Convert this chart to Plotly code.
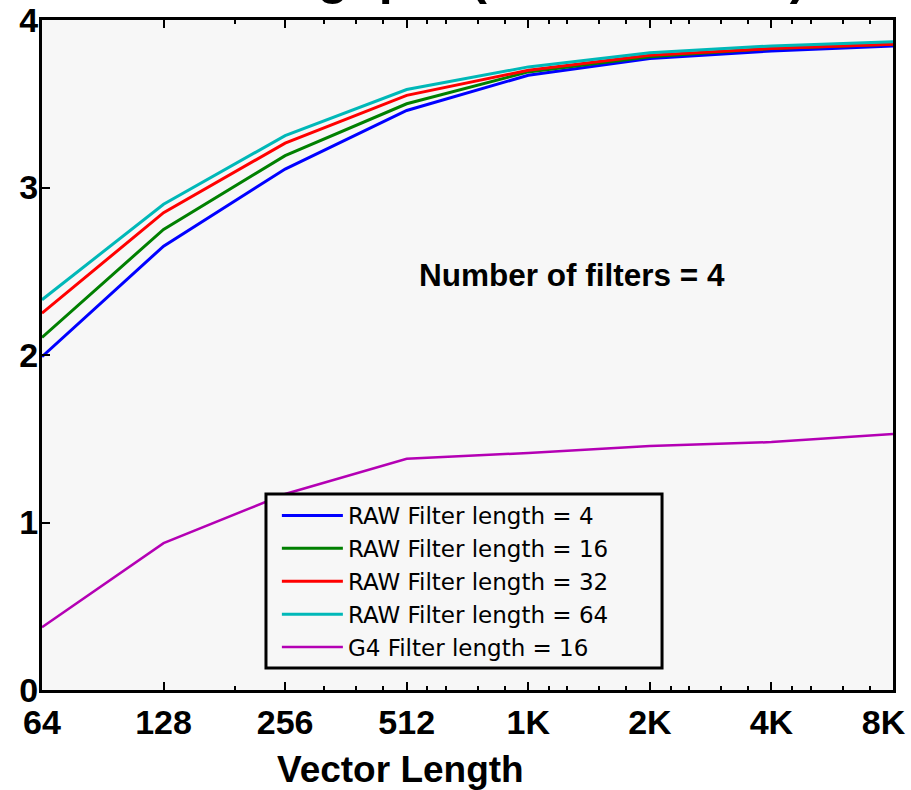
import math
import plotly.graph_objects as go

# ---- data ----
vector_lengths = [64, 128, 256, 512, 1024, 2048, 4096, 8192]
tick_labels = ["64", "128", "256", "512", "1K", "2K", "4K", "8K\u00a0\u00a0"]
minor_ticks = [192, 320, 384, 448, 576, 640, 768, 896,
               1152, 1280, 1536, 1792, 2304, 2560, 3072, 3584,
               4608, 5120, 6144, 7168]

raw_len4 = [1.99, 2.65, 3.11, 3.46, 3.67, 3.77, 3.815, 3.845]
raw_len16 = [2.105, 2.75, 3.19, 3.50, 3.69, 3.78, 3.83, 3.855]
raw_len32 = [2.25, 2.85, 3.265, 3.55, 3.70, 3.79, 3.83, 3.855]
raw_len64 = [2.33, 2.90, 3.31, 3.585, 3.72, 3.805, 3.845, 3.87]
g4_len16 = [0.375, 0.877, 1.17, 1.38, 1.415, 1.457, 1.48, 1.528]

series = [
    ("RAW Filter length = 4", raw_len4, "#0000ff", 3),
    ("RAW Filter length = 16", raw_len16, "#008000", 3),
    ("RAW Filter length = 32", raw_len32, "#ff0000", 3),
    ("RAW Filter length = 64", raw_len64, "#00b8b8", 3),
    ("G4 Filter length = 16", g4_len16, "#b400b4", 2.5),
]

BOLD = "Liberation Sans, Arial, sans-serif"

fig = go.Figure()
for name, vals, color, w in series:
    fig.add_trace(go.Scatter(x=vector_lengths, y=vals, mode="lines", name=name,
                             line=dict(color=color, width=w)))

fig.update_layout(
    width=911, height=790,
    margin=dict(l=42, r=18, t=20, b=100, pad=0, autoexpand=False),
    paper_bgcolor="white",
    plot_bgcolor="#f7f7f7",
    showlegend=True,
    legend=dict(x=0.276, y=0.2925, xanchor="left", yanchor="top",
                bgcolor="rgba(0,0,0,0)", borderwidth=0, itemwidth=61,
                font=dict(family="DejaVu Sans, sans-serif", size=23, color="black")),
    shapes=[
        dict(type="rect", xref="paper", yref="paper",
             x0=0.2632, x1=0.7286, y0=0.0328, y1=0.2925,
             line=dict(color="black", width=3), fillcolor="#f7f7f7", layer="above"),
    ],
    annotations=[
        dict(text="Number of filters = 4", xref="paper", yref="paper",
             x=0.623, y=0.619, xanchor="center", yanchor="middle", showarrow=False,
             font=dict(family=BOLD, size=31.5, color="black", weight="bold")),
        dict(text="Throughput (GFLOPS/sec)", xref="paper", yref="paper",
             x=0.528, y=1.0, xanchor="center", yanchor="bottom", yshift=13,
             showarrow=False,
             font=dict(family=BOLD, size=50, color="black", weight="bold")),
        dict(text="Vector Length", xref="paper", yref="paper",
             x=0.421, y=-0.119, xanchor="center", yanchor="middle", showarrow=False,
             font=dict(family=BOLD, size=37, color="black", weight="bold")),
    ],
)

fig.update_xaxes(
    type="log", range=[math.log10(64), math.log10(8192)],
    tickmode="array", tickvals=vector_lengths, ticktext=tick_labels,
    ticks="inside", ticklen=8, tickwidth=2, tickcolor="black",
    showline=True, linewidth=3, linecolor="black", mirror="ticks",
    showgrid=False, zeroline=False, automargin=False,
    ticklabeloverflow="allow",
    tickfont=dict(family=BOLD, size=34, color="black", weight="bold"),
    minor=dict(tickmode="array", tickvals=minor_ticks, ticks="inside", ticklen=4,
               tickwidth=2, tickcolor="black", showgrid=False),
)
fig.update_yaxes(
    range=[0, 4], tickmode="array", tickvals=[0, 1, 2, 3, 4],
    ticks="inside", ticklen=8, tickwidth=2, tickcolor="black",
    showline=True, linewidth=3, linecolor="black", mirror=True,
    showgrid=False, zeroline=False, automargin=False,
    ticklabeloverflow="allow", ticklabelstandoff=-6,
    tickfont=dict(family=BOLD, size=34, color="black", weight="bold"),
)

fig.write_html("out.html")
